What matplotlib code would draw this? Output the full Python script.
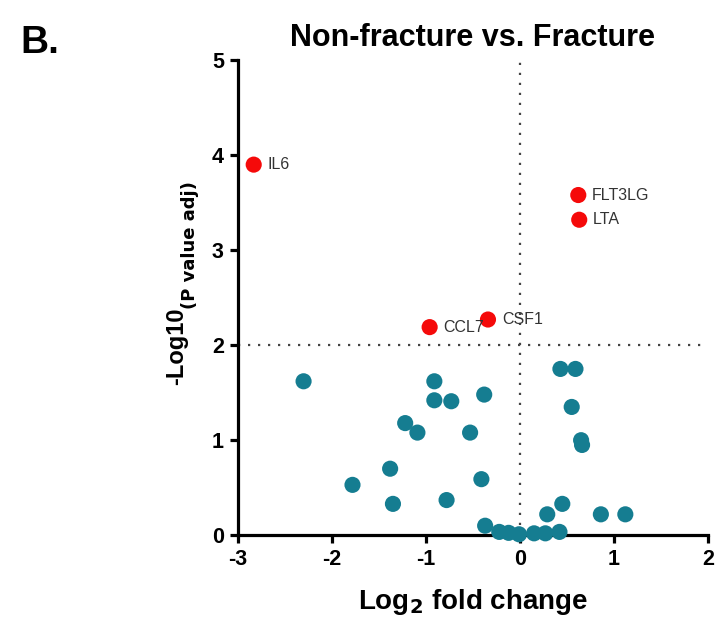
import numpy as np
import matplotlib.pyplot as plt

plt.rcParams['font.family'] = ['Liberation Sans', 'DejaVu Sans']
plt.rcParams['axes.unicode_minus'] = False

# Significant proteins (adj. p < 0.01)
sig_genes = ['IL6', 'FLT3LG', 'LTA', 'CCL7', 'CSF1']
sig_lfc = [-2.83, 0.62, 0.63, -0.96, -0.34]
sig_logp = [3.90, 3.58, 3.32, 2.19, 2.27]

# Remaining proteins
ns_lfc = [-2.30, -0.91, -0.91, -0.73, -1.22, -1.09, -0.53, -1.38, -1.78,
          -1.35, -0.78, -0.38, -0.41, 0.43, 0.59, 0.55, 0.65, 0.66,
          0.45, 0.29, 0.86, 1.12, -0.37, -0.22, -0.12, -0.01, 0.15,
          0.27, 0.42]
ns_logp = [1.62, 1.62, 1.42, 1.41, 1.18, 1.08, 1.08, 0.70, 0.53,
           0.33, 0.37, 1.48, 0.59, 1.75, 1.75, 1.35, 1.00, 0.95,
           0.33, 0.22, 0.22, 0.22, 0.10, 0.035, 0.025, 0.01, 0.02,
           0.02, 0.035]

teal = '#157d91'
red = '#f50a0a'

fig = plt.figure(figsize=(7.16, 6.26), dpi=100)
ax = fig.add_axes([0.332, 0.145, 0.657, 0.759])

# threshold lines
ax.axvline(0, color='#444444', lw=1.6, ls=(0, (1, 3.5)), zorder=1)
ax.axhline(2, color='#444444', lw=1.6, ls=(0, (1, 3.5)), zorder=1)

ax.scatter(ns_lfc, ns_logp, s=135, color=teal, edgecolors='none',
           zorder=3, clip_on=False)
ax.scatter(sig_lfc, sig_logp, s=135, color=red, edgecolors='none',
           zorder=4, clip_on=False)
for g, x, y in zip(sig_genes, sig_lfc, sig_logp):
    ax.annotate(g, (x, y), xytext=(10, 0), textcoords='offset points',
                va='center', ha='left', fontsize=11.5, color='#333333',
                zorder=5)

ax.set_xlim(-3, 2)
ax.set_ylim(0, 5)
ax.set_xticks(np.arange(-3, 3, 1))
ax.set_yticks(np.arange(0, 6, 1))
for side in ['top', 'right']:
    ax.spines[side].set_visible(False)
for side in ['left', 'bottom']:
    ax.spines[side].set_linewidth(2.3)
ax.tick_params(width=2.3, length=6, labelsize=15.5, pad=4)
for lab in ax.get_xticklabels() + ax.get_yticklabels():
    lab.set_fontweight('bold')

ax.set_xlabel('Log$_\\mathbf{2}$ fold change', fontsize=20, fontweight='bold',
              labelpad=12)
ax.set_title('Non-fracture vs. Fracture', fontsize=22, fontweight='bold',
             pad=10)

# y label in two sizes
fig.text(0.247, 0.447, '-Log10', rotation=90, fontsize=17, fontweight='bold',
         ha='center', va='center')
fig.text(0.265, 0.609, '(P value adj)', rotation=90, fontsize=13,
         fontweight='bold', family='DejaVu Sans', ha='center', va='center')

fig.text(0.028, 0.915, 'B.', fontsize=28, fontweight='bold')

fig.savefig('out.png', dpi=100)
